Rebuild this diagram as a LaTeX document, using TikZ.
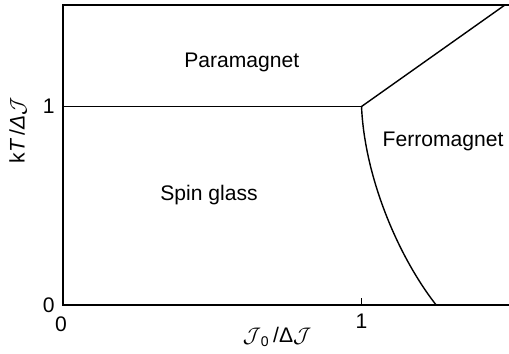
\documentclass[tikz,border=0pt]{standalone}
\usepackage{fontspec}
\setmainfont{Liberation Sans}
\usetikzlibrary{positioning, calc}

\begin{document}
\begin{tikzpicture}[
    x=5.97cm, y=3.97cm,
    axis/.style={line width=0.95pt, black},
    phaseline/.style={line width=0.8pt, black},
    region/.style={font=\fontsize{12}{14}\selectfont, inner sep=0pt},
    ticklabel/.style={font=\fontsize{12}{14}\selectfont, inner sep=0pt}
  ]
    \useasboundingbox (-0.211,-0.2418) rectangle (1.494,1.5365);

    % frame of the phase diagram
    \coordinate (o) at (0,0);
    \coordinate (ytop) at (0,1.511);
    \coordinate (xend) at (1.494,0);
    \coordinate (tright) at (1.494,1.511);
    \coordinate (yone) at (0,1);
    \coordinate (xone) at (1,0);
    \coordinate (crit) at (1,1);
    \coordinate (gs) at (1.25,0);
    \coordinate (pf) at (1.48,1.511);

    \draw[axis] (xend) -- (o) -- (ytop) -- (tright);
    \draw[axis] (xone) -- ++(0,0.035);

    % phase boundaries
    \draw[phaseline] (yone) -- (crit);
    \draw[phaseline] (crit) -- (pf);
    \draw[phaseline] (crit) .. controls (1.01,0.65) and (1.12,0.25) .. (gs);

    % phases
    \node[region] (para) at (0.599,1.221) {Paramagnet};
    \node[region] (glass) at (0.489,0.554) {Spin glass};
    \node[region] (ferro) at (1.273,0.826) {Ferromagnet};

    % ticks and axis labels
    \node[ticklabel, left=0.16cm of o] (y0) {0};
    \node[ticklabel, left=0.16cm of yone] (y1) {1};
    \node[ticklabel, below=0.22cm of o, xshift=-0.04cm] (x0) {0};
    \node[ticklabel, below=0.18cm of xone] (x1) {1};
    \node[ticklabel] (xlab) at (0.717,-0.161)
      {$\mathcal{J}$\textsubscript{0}\,/Δ$\mathcal{J}$};
    \node[ticklabel, rotate=90] (ylab) at (-0.151,0.881)
      {k\textit{T}\,/\textit{Δ}$\mathcal{J}$};
\end{tikzpicture}
\end{document}
